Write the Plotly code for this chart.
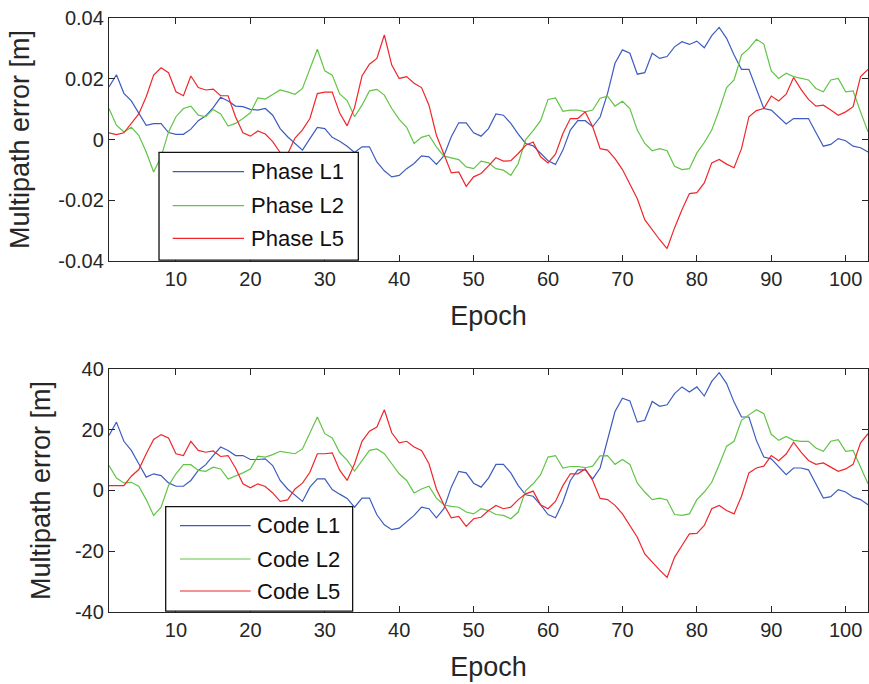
import plotly.graph_objects as go
from plotly.subplots import make_subplots

epochs = list(range(1, 104))

phase_l1 = [0.0173, 0.0213, 0.0152, 0.0127, 0.0087, 0.0047, 0.0052, 0.0052, 0.0023, 0.0017,
            0.0017, 0.0034, 0.0062, 0.0078, 0.0105, 0.0139, 0.0127, 0.0110, 0.0108, 0.0099,
            0.0097, 0.0102, 0.0080, 0.0036, 0.0009, -0.0013, -0.0035, 0.0003, 0.0040, 0.0036,
            0.0007, -0.0006, -0.0022, -0.0043, -0.0024, -0.0024, -0.0074, -0.0103, -0.0123, -0.0118,
            -0.0096, -0.0079, -0.0054, -0.0057, -0.0082, -0.0054, 0.0009, 0.0055, 0.0055, 0.0022,
            0.0011, 0.0036, 0.0084, 0.0080, 0.0053, 0.0018, -0.0013, -0.0021, -0.0046, -0.0070,
            -0.0082, -0.0035, 0.0031, 0.0062, 0.0062, 0.0042, 0.0074, 0.0152, 0.0251, 0.0295,
            0.0284, 0.0215, 0.0220, 0.0284, 0.0267, 0.0273, 0.0305, 0.0322, 0.0313, 0.0324,
            0.0302, 0.0342, 0.0369, 0.0333, 0.0278, 0.0231, 0.0231, 0.0163, 0.0102, 0.0097,
            0.0075, 0.0051, 0.0069, 0.0069, 0.0069, 0.0023, -0.0022, -0.0016, 0.0003, -0.0004,
            -0.0022, -0.0027, -0.0041]

phase_l2 = [0.0102, 0.0047, 0.0025, 0.0040, 0.0014, -0.0041, -0.0107, -0.0057, 0.0025, 0.0075,
            0.0102, 0.0110, 0.0080, 0.0075, 0.0099, 0.0084, 0.0044, 0.0053, 0.0069, 0.0088,
            0.0137, 0.0133, 0.0148, 0.0163, 0.0157, 0.0149, 0.0168, 0.0234, 0.0297, 0.0226,
            0.0212, 0.0150, 0.0128, 0.0075, 0.0113, 0.0160, 0.0165, 0.0146, 0.0102, 0.0066,
            0.0040, -0.0013, 0.0007, 0.0014, -0.0024, -0.0055, -0.0060, -0.0066, -0.0090, -0.0096,
            -0.0071, -0.0077, -0.0096, -0.0101, -0.0118, -0.0079, 0.0000, 0.0029, 0.0062, 0.0132,
            0.0137, 0.0093, 0.0097, 0.0097, 0.0091, 0.0097, 0.0136, 0.0143, 0.0110, 0.0126,
            0.0102, 0.0031, -0.0013, -0.0037, -0.0030, -0.0037, -0.0088, -0.0099, -0.0096, -0.0044,
            -0.0010, 0.0031, 0.0097, 0.0171, 0.0196, 0.0278, 0.0300, 0.0330, 0.0314, 0.0226,
            0.0201, 0.0218, 0.0207, 0.0201, 0.0196, 0.0168, 0.0157, 0.0196, 0.0201, 0.0157,
            0.0160, 0.0091, 0.0025]

phase_l5 = [0.0022, 0.0016, 0.0022, 0.0053, 0.0084, 0.0141, 0.0212, 0.0236, 0.0220, 0.0157,
            0.0144, 0.0209, 0.0171, 0.0163, 0.0166, 0.0144, 0.0144, 0.0075, 0.0022, 0.0011,
            0.0028, 0.0018, -0.0007, -0.0043, -0.0048, 0.0005, 0.0032, 0.0069, 0.0151, 0.0156,
            0.0156, 0.0087, 0.0045, 0.0105, 0.0209, 0.0248, 0.0267, 0.0344, 0.0245, 0.0201,
            0.0207, 0.0185, 0.0171, 0.0113, 0.0014, -0.0048, -0.0110, -0.0107, -0.0154, -0.0123,
            -0.0112, -0.0087, -0.0060, -0.0071, -0.0070, -0.0046, -0.0019, -0.0008, -0.0057, -0.0077,
            -0.0048, 0.0020, 0.0069, 0.0069, 0.0091, 0.0042, -0.0030, -0.0035, -0.0063, -0.0099,
            -0.0145, -0.0195, -0.0264, -0.0299, -0.0330, -0.0359, -0.0291, -0.0231, -0.0178, -0.0175,
            -0.0143, -0.0077, -0.0066, -0.0081, -0.0093, -0.0030, 0.0075, 0.0095, 0.0102, 0.0143,
            0.0127, 0.0149, 0.0204, 0.0165, 0.0132, 0.0110, 0.0113, 0.0097, 0.0080, 0.0091,
            0.0108, 0.0207, 0.0231]

code_l1 = [18.1, 22.5, 16.2, 13.2, 8.8, 4.4, 5.5, 4.9, 2.5, 1.4,
           1.4, 3.3, 6.6, 8.5, 11.5, 14.3, 13.2, 11.5, 11.5, 10.2,
           10.2, 10.4, 8.2, 3.3, 0.5, -1.4, -3.6, 1.1, 3.8, 3.8,
           0.3, -1.2, -2.6, -5.5, -2.5, -2.5, -8.0, -11.3, -12.9, -12.4,
           -10.4, -8.2, -5.5, -6.0, -9.0, -6.0, 1.1, 6.3, 5.8, 2.4,
           1.1, 4.1, 8.6, 8.6, 5.8, 1.6, -1.4, -1.9, -4.7, -7.9,
           -9.0, -3.8, 3.3, 6.8, 6.8, 3.8, 7.4, 16.5, 26.0, 30.4,
           29.5, 22.5, 23.1, 29.3, 27.7, 28.2, 31.9, 34.1, 32.4, 34.1,
           31.1, 35.9, 38.8, 35.2, 29.1, 24.2, 24.2, 16.5, 11.0, 10.4,
           7.7, 5.2, 7.4, 7.4, 6.8, 2.2, -2.5, -2.0, 0.3, -0.5,
           -2.2, -3.0, -4.7]

code_l2 = [8.2, 4.1, 2.5, 2.7, 1.4, -3.0, -8.2, -5.5, 1.6, 5.5,
           8.5, 8.5, 6.6, 6.3, 7.7, 7.1, 3.8, 4.7, 5.8, 7.1,
           11.3, 11.0, 11.8, 12.9, 12.6, 12.1, 13.7, 18.7, 24.2, 18.7,
           17.3, 12.5, 10.0, 6.4, 9.6, 13.2, 13.7, 12.1, 8.8, 5.5,
           3.3, -0.8, 0.5, 1.4, -2.5, -4.7, -5.2, -5.5, -7.1, -7.7,
           -6.0, -6.6, -7.9, -8.2, -9.3, -7.1, 0.0, 2.2, 5.2, 11.0,
           11.5, 7.4, 7.9, 7.9, 7.5, 8.0, 11.4, 11.5, 8.6, 10.2,
           8.6, 2.4, -0.5, -3.0, -2.5, -3.1, -7.9, -8.2, -7.7, -3.0,
           -0.5, 2.7, 8.5, 14.6, 16.2, 23.1, 24.9, 26.6, 25.3, 18.5,
           16.5, 17.8, 16.5, 16.2, 16.2, 14.0, 12.9, 16.2, 16.7, 12.9,
           13.2, 7.7, 2.2]

code_l5 = [1.6, 1.6, 1.6, 4.7, 6.9, 12.1, 16.8, 18.4, 17.3, 12.1,
           11.5, 16.2, 13.2, 12.6, 13.0, 11.2, 11.5, 7.4, 2.2, 0.9,
           2.2, 1.3, -0.8, -3.6, -3.1, 0.5, 2.4, 6.0, 12.1, 12.1,
           12.4, 6.7, 3.3, 8.8, 16.2, 19.5, 20.9, 26.6, 19.0, 15.7,
           16.2, 14.3, 13.2, 8.8, 0.5, -4.7, -9.0, -8.5, -11.8, -9.3,
           -8.8, -6.6, -4.9, -6.0, -5.5, -3.0, -1.1, -0.2, -4.7, -6.0,
           -3.6, 1.6, 5.5, 5.5, 7.1, 3.3, -2.6, -3.0, -4.9, -7.7,
           -11.5, -15.4, -20.9, -23.6, -26.2, -28.6, -22.0, -18.1, -14.3, -14.1,
           -11.5, -6.0, -4.9, -6.6, -7.7, -1.9, 5.8, 7.4, 8.0, 11.5,
           9.8, 12.0, 15.9, 12.6, 9.9, 8.6, 9.1, 7.7, 6.3, 7.1,
           8.6, 15.7, 18.7]

top_names = ["Phase L1", "Phase L2", "Phase L5"]
bottom_names = ["Code L1", "Code L2", "Code L5"]
colors = ["#3d5cbf", "#62c447", "#f0262b"]

x_tickvals = [10, 20, 30, 40, 50, 60, 70, 80, 90, 100]
x_ticktext = ["10", "20", "30", "40", "50", "60", "70", "80", "90", "100"]
top_tickvals = [-0.04, -0.02, 0, 0.02, 0.04]
top_ticktext = ["-0.04", "-0.02", "0", "0.02", "0.04"]
bottom_tickvals = [-40, -20, 0, 20, 40]
bottom_ticktext = ["-40", "-20", "0", "20", "40"]

FONT = "Liberation Sans, Arial, Helvetica, sans-serif"
AXC = "#262626"

fig = make_subplots(rows=2, cols=1)

for name, ys, c in zip(top_names, [phase_l1, phase_l2, phase_l5], colors):
    fig.add_trace(go.Scatter(x=epochs, y=ys, mode="lines", name=name,
                             line=dict(color=c, width=1.2), showlegend=False), row=1, col=1)
for name, ys, c in zip(bottom_names, [code_l1, code_l2, code_l5], colors):
    fig.add_trace(go.Scatter(x=epochs, y=ys, mode="lines", name=name,
                             line=dict(color=c, width=1.2), showlegend=False), row=2, col=1)

axis_common = dict(showline=True, linecolor=AXC, linewidth=1.3, mirror="ticks",
                   ticks="inside", ticklen=6, tickwidth=1, tickcolor=AXC,
                   showgrid=False, zeroline=False,
                   tickfont=dict(family=FONT, size=20, color=AXC))

title_font = dict(family=FONT, size=27, color=AXC)
fig.update_xaxes(**axis_common, range=[1, 103], tickvals=x_tickvals, ticktext=x_ticktext,
                 title=dict(text="Epoch", font=title_font, standoff=16))
fig.update_yaxes(**axis_common)
fig.update_layout(
    xaxis=dict(domain=[0, 1]), xaxis2=dict(domain=[0, 1]),
    yaxis=dict(domain=[0.5909, 1], range=[-0.04, 0.04], tickvals=top_tickvals, ticktext=top_ticktext,
               title=dict(text="Multipath error [m]", font=title_font, standoff=20)),
    yaxis2=dict(domain=[0, 0.4091], range=[-40, 40], tickvals=bottom_tickvals, ticktext=bottom_ticktext,
                title=dict(text="Multipath error [m]", font=title_font, standoff=16)),
)

# MATLAB-style legend boxes (drawn above the lines)
legend_specs = [
    dict(xr="x domain", yr="y domain", names=top_names, box=(0.0659, 0.004, 0.3285, 0.4473),
         line_x=(0.0839, 0.1779), text_x=0.184, rows=[0.3675, 0.2276, 0.0934]),
    dict(xr="x2 domain", yr="y2 domain", names=bottom_names, box=(0.0747, 0.004, 0.321, 0.4333),
         line_x=(0.0935, 0.1867), text_x=0.193, rows=[0.3551, 0.2181, 0.0864]),
]
for spec in legend_specs:
    x0, y0, x1, y1 = spec["box"]
    fig.add_shape(type="rect", xref=spec["xr"], yref=spec["yr"], x0=x0, y0=y0, x1=x1, y1=y1,
                  fillcolor="white", line=dict(color="#111111", width=1.3), layer="above")
    for name, c, ry in zip(spec["names"], colors, spec["rows"]):
        fig.add_shape(type="line", xref=spec["xr"], yref=spec["yr"],
                      x0=spec["line_x"][0], x1=spec["line_x"][1], y0=ry, y1=ry,
                      line=dict(color=c, width=1.2), layer="above")
        fig.add_annotation(xref=spec["xr"], yref=spec["yr"], x=spec["text_x"], y=ry,
                           text=name, showarrow=False, xanchor="left", yanchor="middle",
                           font=dict(family=FONT, size=22, color="#111111"))

fig.update_layout(
    width=869, height=684,
    margin=dict(l=109, r=1, t=18, b=72),
    paper_bgcolor="white", plot_bgcolor="white",
    font=dict(family=FONT, color=AXC),
    showlegend=False,
)

fig.write_html("out.html")
